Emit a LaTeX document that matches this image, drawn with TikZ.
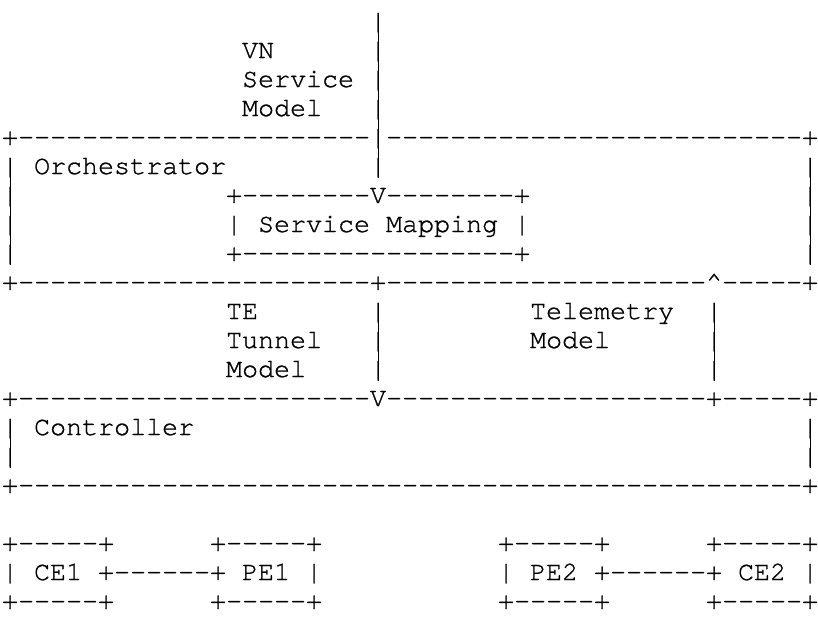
\documentclass[tikz,border=0pt]{standalone}
\usepackage{fontspec}
\setmonofont{TeX Gyre Cursor}[FakeBold=1]
\begin{document}
\begin{tikzpicture}
  [x=12pt, y=-21.75pt, every node/.style={font=\ttfamily\fontsize{20}{22}\selectfont, inner sep=0, anchor=base west, yshift=-6pt},
   bar/.style={line width=0.6pt, black}]
  \useasboundingbox (-0.115,-0.7241) rectangle (51.01,20.552);

  % service model into the orchestrator
  \node (vs0) at (23,0) {|};
  \node (vn1) at (15,1) {VN};
  \node (vs1) at (23,1) {|};
  \node (vn2) at (15,2) {Service};
  \node (vs2) at (23,2) {|};
  \node (vn3) at (15,3) {Model};
  \node (vs3) at (23,3) {|};

  % orchestrator
  \node (orchtop) at (0,4) {+----------------------|--------------------------+};
  \node (ol5) at (0,5) {|};
  \node (orch) at (2,5) {Orchestrator};
  \node (vs5) at (23,5) {|};
  \node (or5) at (50,5) {|};
  \node (ol6) at (0,6) {|};
  \node (smtop) at (14,6) {+--------V--------+};
  \node (or6) at (50,6) {|};
  \node (ol7) at (0,7) {|};
  \node (sm) at (14,7) {| Service Mapping |};
  \node (or7) at (50,7) {|};
  \node (ol8) at (0,8) {|};
  \node (smbot) at (14,8) {+-----------------+};
  \node (or8) at (50,8) {|};
  \node (orchbot) at (0,9) {+----------------------+--------------------\textasciicircum-----+};

  % tunnel and telemetry models
  \node (te1) at (14,10) {TE};
  \node (ts10) at (23,10) {|};
  \node (tm1) at (33,10) {Telemetry};
  \node (ms10) at (44,10) {|};
  \node (te2) at (14,11) {Tunnel};
  \node (ts11) at (23,11) {|};
  \node (tm2) at (33,11) {Model};
  \node (ms11) at (44,11) {|};
  \node (te3) at (14,12) {Model};
  \node (ts12) at (23,12) {|};
  \node (ms12) at (44,12) {|};

  % controller
  \node (ctrltop) at (0,13) {+----------------------V--------------------+-----+};
  \node (cl14) at (0,14) {|};
  \node (ctrl) at (2,14) {Controller};
  \node (cr14) at (50,14) {|};
  \node (cl15) at (0,15) {|};
  \node (cr15) at (50,15) {|};
  \node (ctrlbot) at (0,16) {+-------------------------------------------------+};

  % network elements
  \node (ce1top) at (0,18) {+-----+};
  \node (pe1top) at (13,18) {+-----+};
  \node (pe2top) at (31,18) {+-----+};
  \node (ce2top) at (44,18) {+-----+};
  \node (site1) at (0,19) {| CE1 +------+ PE1 |};
  \node (site2) at (31,19) {| PE2 +------+ CE2 |};
  \node (ce1bot) at (0,20) {+-----+};
  \node (pe1bot) at (13,20) {+-----+};
  \node (pe2bot) at (31,20) {+-----+};
  \node (ce2bot) at (44,20) {+-----+};

  % close the gaps between stacked bars
  \draw[bar] (vs0.north) -- (vs5.south);
  \draw[bar] (ol5.north) -- (ol8.south);
  \draw[bar] (or5.north) -- (or8.south);
  \draw[bar] (ts10.north) -- (ts12.south);
  \draw[bar] (ms10.north) -- (ms12.south);
  \draw[bar] (cl14.north) -- (cl15.south);
  \draw[bar] (cr14.north) -- (cr15.south);
\end{tikzpicture}
\end{document}
